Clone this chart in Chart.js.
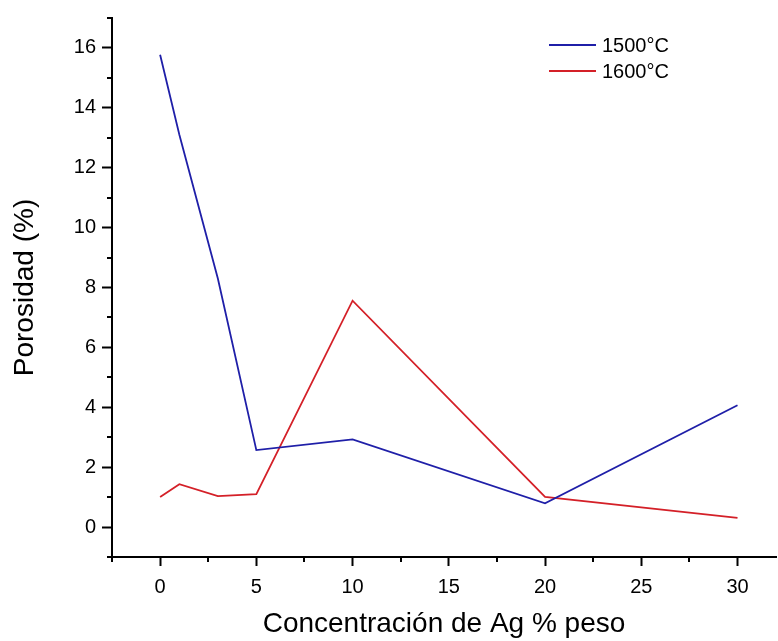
<!DOCTYPE html>
<html>
<head>
<meta charset="utf-8">
<script src="https://cdn.jsdelivr.net/npm/chart.js@4.4.0/dist/chart.umd.min.js"></script>
<style>
  html, body { margin: 0; padding: 0; background: #fff; }
  #wrap { width: 778px; height: 641px; }
</style>
</head>
<body>
<div id="wrap"><canvas id="grafico" width="778" height="641"></canvas></div>
<script>
// datos
const concentracion = [0, 1, 3, 5, 10, 20, 30];
const poros1500 = [15.77, 13.1, 8.3, 2.57, 2.93, 0.79, 4.07];
const poros1600 = [1.0, 1.43, 1.03, 1.1, 7.56, 1.01, 0.31];
const etiquetas = ['1500°C', '1600°C'];
const colores = ['#1f1fa8', '#d42028'];

const fuente = 'Arial, "Liberation Sans", sans-serif';

function puntos(ys) {
    return concentracion.map((x, i) => ({ x: x, y: ys[i] }));
}

// marcas menores (sin etiqueta) y leyenda dibujada a mano
const extras = {
    id: 'extras',
    afterDraw(chart) {
        const ctx = chart.ctx;
        const sx = chart.scales.x, sy = chart.scales.y;
        ctx.save();
        ctx.strokeStyle = '#000';
        ctx.lineWidth = 2;
        for (let v = -2.5; v <= 32; v += 5) {
            const px = Math.round(sx.getPixelForValue(v));
            ctx.beginPath();
            ctx.moveTo(px, sy.bottom);
            ctx.lineTo(px, sy.bottom + 5);
            ctx.stroke();
        }
        for (let v = -1; v <= 17; v += 2) {
            const py = Math.round(sy.getPixelForValue(v));
            ctx.beginPath();
            ctx.moveTo(sx.left, py);
            ctx.lineTo(sx.left - 5, py);
            ctx.stroke();
        }
        // leyenda
        ctx.font = '20px ' + fuente;
        ctx.textBaseline = 'middle';
        ctx.fillStyle = '#000';
        chart.data.datasets.forEach((ds, i) => {
            const y = 45 + i * 26;
            ctx.strokeStyle = ds.borderColor;
            ctx.lineWidth = 2;
            ctx.beginPath();
            ctx.moveTo(549, y);
            ctx.lineTo(596, y);
            ctx.stroke();
            ctx.fillText(ds.label, 602, y + 1);
        });
        ctx.restore();
    }
};

const colorMarca = (ctx, paso) =>
    (ctx.tick && Math.abs(ctx.tick.value % paso) < 1e-6) ? '#000' : 'rgba(0,0,0,0)';

new Chart(document.getElementById('grafico'), {
    type: 'line',
    data: {
        datasets: [
            { label: etiquetas[0], data: puntos(poros1500), borderColor: colores[0], borderWidth: 1.8, pointRadius: 0, tension: 0 },
            { label: etiquetas[1], data: puntos(poros1600), borderColor: colores[1], borderWidth: 1.8, pointRadius: 0, tension: 0 }
        ]
    },
    plugins: [extras],
    options: {
        responsive: false,
        animation: false,
        layout: { padding: { top: 14, right: 2, left: 0, bottom: 0 } },
        plugins: { legend: { display: false }, tooltip: { enabled: false } },
        scales: {
            x: {
                type: 'linear',
                min: -2.5,
                max: 32,
                afterFit: s => { s.height = 84; },
                border: { color: '#000', width: 2 },
                grid: { drawOnChartArea: false, tickLength: 9, tickWidth: 2, color: ctx => colorMarca(ctx, 5) },
                ticks: {
                    stepSize: 2.5,
                    includeBounds: false,
                    autoSkip: false,
                    maxRotation: 0,
                    color: '#000',
                    padding: 9,
                    font: { family: fuente, size: 20 },
                    callback: v => (v >= 0 && v <= 30 && v % 5 === 0) ? v : ''
                },
                title: {
                    display: true,
                    text: 'Concentración de Ag % peso',
                    color: '#000',
                    font: { family: fuente, size: 28 },
                    padding: { top: 5, bottom: 0 }
                }
            },
            y: {
                min: -1,
                max: 17,
                afterFit: s => { s.width = 112; },
                border: { color: '#000', width: 2 },
                grid: { drawOnChartArea: false, tickLength: 10, tickWidth: 2, color: ctx => colorMarca(ctx, 2) },
                ticks: {
                    stepSize: 1,
                    includeBounds: false,
                    autoSkip: false,
                    color: '#000',
                    padding: 6,
                    font: { family: fuente, size: 20 },
                    callback: v => (v >= 0 && v <= 16 && v % 2 === 0) ? v : ''
                },
                title: {
                    display: true,
                    text: 'Porosidad (%)',
                    color: '#000',
                    font: { family: fuente, size: 28 },
                    padding: { top: 8, bottom: 0 }
                }
            }
        }
    }
});
</script>
</body>
</html>
